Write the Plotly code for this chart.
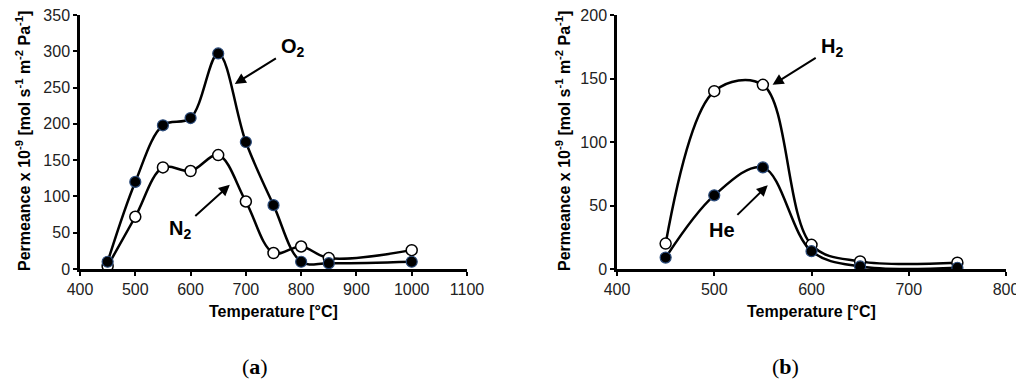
import plotly.graph_objects as go

# ---- data ----
temp_a = [450, 500, 550, 600, 650, 700, 750, 800, 850, 1000]
o2_vals = [10, 120, 198, 208, 297, 175, 88, 10, 8, 10]
n2_vals = [4, 72, 140, 135, 157, 93, 22, 31, 15, 26]

temp_b = [450, 500, 550, 600, 650, 750]
h2_vals = [20, 140, 145, 19, 6, 5]
he_vals = [9, 58, 80, 14, 2, 1]

xticks_a = [400, 500, 600, 700, 800, 900, 1000, 1100]
yticks_a = [0, 50, 100, 150, 200, 250, 300, 350]
xticks_b = [400, 500, 600, 700, 800]
yticks_b = [0, 50, 100, 150, 200]

# the page body has an 8px margin, so the figure is sized to fit and shifted
OFF = 8
W, H = 1024 - OFF, 384 - OFF

def px(xp):
    return (xp - OFF) / W

def py(yp):
    return (H - (yp - OFF)) / H

TICK_FONT = dict(family="Arial, Liberation Sans, sans-serif", size=16, color="#222")
TITLE_FONT = "Liberation Sans Narrow, Arial Narrow, Liberation Sans, Arial, sans-serif"

fig = go.Figure()

filled = dict(size=11, color="black", line=dict(color="#2a4a7a", width=1.2))
hollow = dict(size=11, color="white", line=dict(color="black", width=1.5))
line = dict(color="black", width=2.5, shape="spline", smoothing=1.0)

fig.add_trace(go.Scatter(x=temp_a, y=n2_vals, mode="lines+markers", line=line,
                         marker=hollow, xaxis="x", yaxis="y", showlegend=False))
fig.add_trace(go.Scatter(x=temp_a, y=o2_vals, mode="lines+markers", line=line,
                         marker=filled, xaxis="x", yaxis="y", showlegend=False))
fig.add_trace(go.Scatter(x=temp_b, y=h2_vals, mode="lines+markers", line=line,
                         marker=hollow, xaxis="x2", yaxis="y2", showlegend=False))
fig.add_trace(go.Scatter(x=temp_b, y=he_vals, mode="lines+markers", line=line,
                         marker=filled, xaxis="x2", yaxis="y2", showlegend=False))

dom_a = [px(80), px(467)]
dom_b = [px(617), px(1006)]
dom_y = [py(269), py(15)]

def ax_main(domain, ticks, anchor):
    return dict(domain=domain, range=[ticks[0], ticks[-1]], tickvals=ticks,
                showgrid=False, zeroline=False, showline=True, linecolor="black",
                linewidth=2.5, ticks="outside", ticklen=4, tickwidth=2, tickcolor="black",
                tickfont=TICK_FONT, anchor=anchor, automargin=False,
                ticklabeloverflow="allow")

def inner(ticks, overlay, anchor, side):
    return dict(overlaying=overlay, anchor=anchor, side=side,
                range=[ticks[0], ticks[-1]], tickvals=ticks, ticks="inside",
                ticklen=4, tickwidth=2, tickcolor="black", showticklabels=False,
                showgrid=False, zeroline=False, showline=False, automargin=False)

fig.update_layout(
    width=W, height=H,
    margin=dict(l=0, r=0, t=0, b=0, autoexpand=False),
    paper_bgcolor="white", plot_bgcolor="white",
    xaxis=ax_main(dom_a, xticks_a, "y"),
    yaxis=ax_main(dom_y, yticks_a, "x"),
    xaxis2=ax_main(dom_b, xticks_b, "y2"),
    yaxis2=ax_main(dom_y, yticks_b, "x2"),
    xaxis3=inner(xticks_a, "x", "y", "bottom"),
    yaxis3=inner(yticks_a, "y", "x", "left"),
    xaxis4=inner(xticks_b, "x2", "y2", "bottom"),
    yaxis4=inner(yticks_b, "y2", "x2", "left"),
)

ylab = "Permeance x 10<sup>-9</sup> [mol s<sup>-1</sup> m<sup>-2</sup> Pa<sup>-1</sup>]"
ann = []
for xpix in (23, 563):
    ann.append(dict(text="<b>" + ylab + "</b>", x=px(xpix), y=py(141),
                    xref="paper", yref="paper", showarrow=False, textangle=-90,
                    font=dict(family=TITLE_FONT, size=16, color="black"),
                    xanchor="center", yanchor="middle"))
for xpix in (273.5, 811.5):
    ann.append(dict(text="<b>Temperature [°C]</b>", x=px(xpix), y=py(311),
                    xref="paper", yref="paper", showarrow=False,
                    font=dict(family=TITLE_FONT, size=16, color="black"),
                    xanchor="center", yanchor="middle"))
for xpix, lab in ((255, "a"), (785, "b")):
    ann.append(dict(text="(<b>" + lab + "</b>)", x=px(xpix), y=py(366),
                    xref="paper", yref="paper", showarrow=False,
                    font=dict(family="Liberation Serif, DejaVu Serif, serif", size=22, color="black"),
                    xanchor="center", yanchor="middle"))

# gas labels with arrows pointing at the curves
gas_font = dict(family="Arial, Liberation Sans, sans-serif", size=20, color="black")
arrow = dict(showarrow=True, arrowhead=2, arrowsize=1.1, arrowwidth=2, arrowcolor="black",
             standoff=0, startstandoff=4)
for x, y, dx, dy, t, xr, yr in ((680, 255, 58, -36, "O<sub>2</sub>", "x", "y"),
                                (671, 116, -50, 45, "N<sub>2</sub>", "x", "y"),
                                (560, 145, 59, -37, "H<sub>2</sub>", "x2", "y2"),
                                (555, 66, -46, 45, "He", "x2", "y2")):
    ann.append(dict(x=x, y=y, ax=dx, ay=dy, text="<b>" + t + "</b>", xref=xr, yref=yr,
                    font=gas_font, **arrow))

fig.update_layout(annotations=ann)
fig.write_html("out.html")
